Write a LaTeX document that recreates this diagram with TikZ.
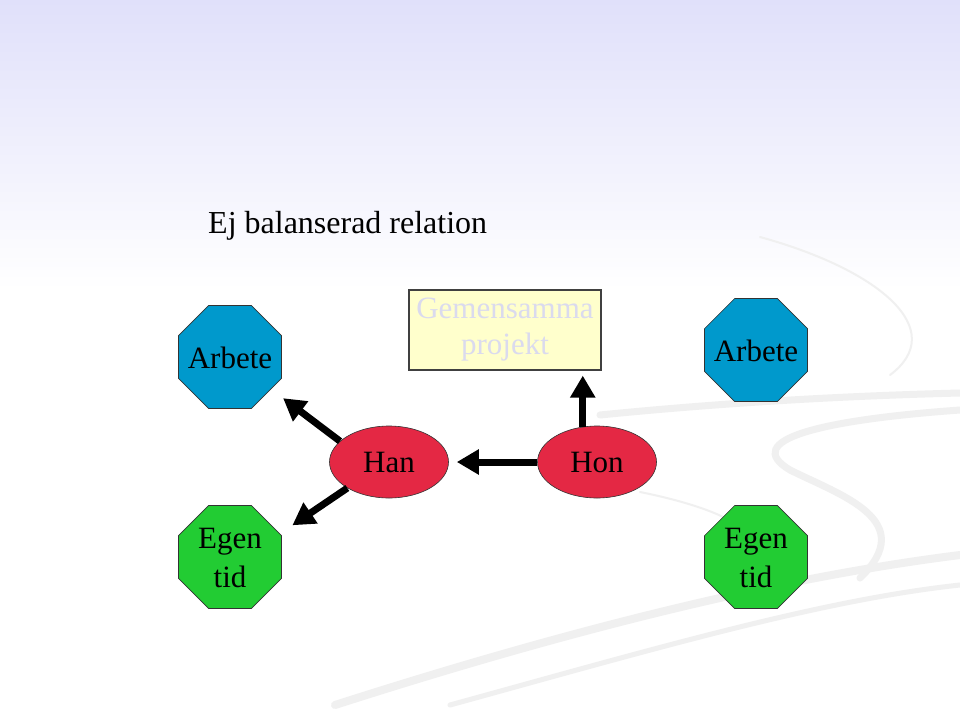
\documentclass[tikz,border=0pt]{standalone}
\usepackage{fontspec}
\setmainfont{Liberation Serif}
\usetikzlibrary{shapes.geometric,arrows.meta}
\definecolor{octblue}{RGB}{0,153,204}
\definecolor{octgreen}{RGB}{34,204,51}
\definecolor{ellred}{RGB}{228,40,68}
\definecolor{boxyellow}{RGB}{255,255,204}
\definecolor{ghost}{RGB}{218,218,238}
\definecolor{bgtop}{RGB}{224,224,250}
\definecolor{swoosh}{RGB}{240,240,240}
\newcommand{\octtext}[2]{\raisebox{#1}[0pt][0pt]{\makebox[0pt]{\begin{tabular}[t]{@{}c@{}}#2\end{tabular}}}}
\tikzset{
  oct/.style={regular polygon, regular polygon sides=8, minimum size=111.5pt, inner sep=0pt,
    draw=black!80, line width=0.6pt, font=\fontsize{31}{39}\selectfont},
  person/.style={ellipse, minimum width=119pt, minimum height=72pt, inner sep=0pt,
    draw=black!80, line width=0.6pt, fill=ellred, font=\fontsize{31}{36}\selectfont},
  projbox/.style={draw=black!75, line width=1.2pt, fill=boxyellow, minimum width=192pt,
    minimum height=80pt, inner sep=0pt, align=center, text=ghost, font=\fontsize{31}{36}\selectfont},
  arr/.style={line width=7pt, -{Triangle[length=22pt,width=24pt]}},
  swo/.style={draw=swoosh, line cap=round}
}
\begin{document}
\begin{tikzpicture}[x=1pt,y=-1pt]
\useasboundingbox (0,0) rectangle (960,720);
\fill[white] (0,0) rectangle (960,720);
\shade[top color=bgtop, bottom color=white] (0,0) rectangle (960,290);
% decorative swooshes
\draw[swo, line width=2pt] (760,237) .. controls (880,270) and (950,330) .. (890,375);
\draw[swo, line width=7pt] (600,415) .. controls (750,400) and (880,395) .. (960,393);
\draw[swo, line width=7pt] (960,410) .. controls (820,420) and (740,440) .. (790,470)
  .. controls (840,495) and (920,520) .. (860,578);
\draw[swo, line width=2pt] (640,492) .. controls (680,500) and (710,510) .. (725,518);
\draw[swo, line width=8pt] (335,705) .. controls (600,620) and (800,575) .. (960,555);
\draw[swo, line width=5pt] (450,705) .. controls (650,650) and (820,600) .. (960,585);
% title
\node[anchor=base west, inner sep=0pt, font=\fontsize{32}{36}\selectfont] (title) at (208,233) {Ej balanserad relation};
% nodes
\node[oct, fill=octblue] (arbL) at (230,357) {\octtext{-11pt}{Arbete}};
\node[oct, fill=octgreen] (egL) at (230,557) {\octtext{9pt}{Egen\\tid}};
\node[oct, fill=octblue] (arbR) at (756,350) {\octtext{-11pt}{Arbete}};
\node[oct, fill=octgreen] (egR) at (756,557) {\octtext{9pt}{Egen\\tid}};
\node[person] (han) at (389,462) {Han};
\node[person] (hon) at (597,462) {Hon};
\node[projbox] (box) at (505,330) {Gemensamma\\projekt};
% arrows
\draw[arr, shorten >=8pt] (hon.west) -- (han.east);
\draw[arr, shorten >=5pt] (hon.112) -- (hon.112 |- box.south);
\draw[arr, shorten >=15pt] (han.157) -- (arbL.-38);
\draw[arr, shorten >=15pt] (han.212) -- (egL.25);
\end{tikzpicture}
\end{document}
